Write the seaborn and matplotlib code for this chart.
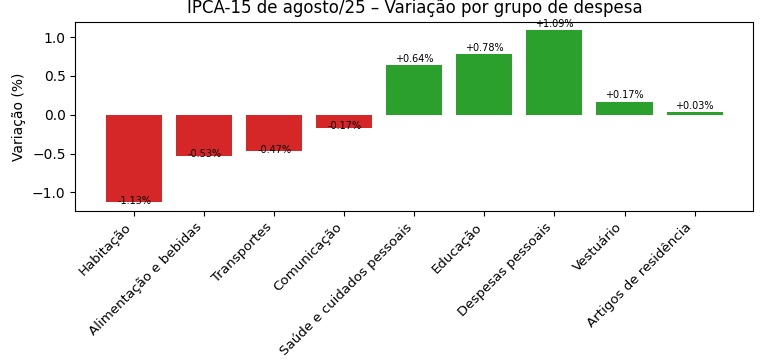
import matplotlib
matplotlib.use("Agg")
import matplotlib.pyplot as plt
import seaborn as sns
import pandas as pd

grupos = [
    "Habitação",
    "Alimentação e bebidas",
    "Transportes",
    "Comunicação",
    "Saúde e cuidados pessoais",
    "Educação",
    "Despesas pessoais",
    "Vestuário",
    "Artigos de residência",
]
variacao = [-1.13, -0.53, -0.47, -0.17, 0.64, 0.78, 1.09, 0.17, 0.03]

df = pd.DataFrame({"grupo": grupos, "variacao": variacao})
cores = ["#d62728" if v < 0 else "#2ca02c" for v in variacao]

fig, ax = plt.subplots(figsize=(7.68, 3.59), dpi=100)
sns.barplot(data=df, x="grupo", y="variacao", hue="grupo", palette=cores,
            legend=False, saturation=1, width=0.8, ax=ax)

# rótulos de valor
for i, v in enumerate(variacao):
    if v >= 0:
        ax.text(i, v + 0.02, f"{v:+.2f}%", ha="center", va="bottom", fontsize=7)
    else:
        ax.text(i, v + 0.02, f"{v:+.2f}%", ha="center", va="center", fontsize=7)

ax.set_title("IPCA-15 de agosto/25 – Variação por grupo de despesa", fontsize=12)
ax.set_xlabel("")
ax.set_ylabel("Variação (%)")
ax.margins(y=0.05)
ax.set_xlim(-0.84, len(grupos) - 1 + 0.84)
plt.setp(ax.get_xticklabels(), rotation=45, ha="right", fontsize=9.6)
fig.subplots_adjust(left=0.098, right=0.981, top=0.94, bottom=0.412)
fig.savefig("out.png", dpi=100)
